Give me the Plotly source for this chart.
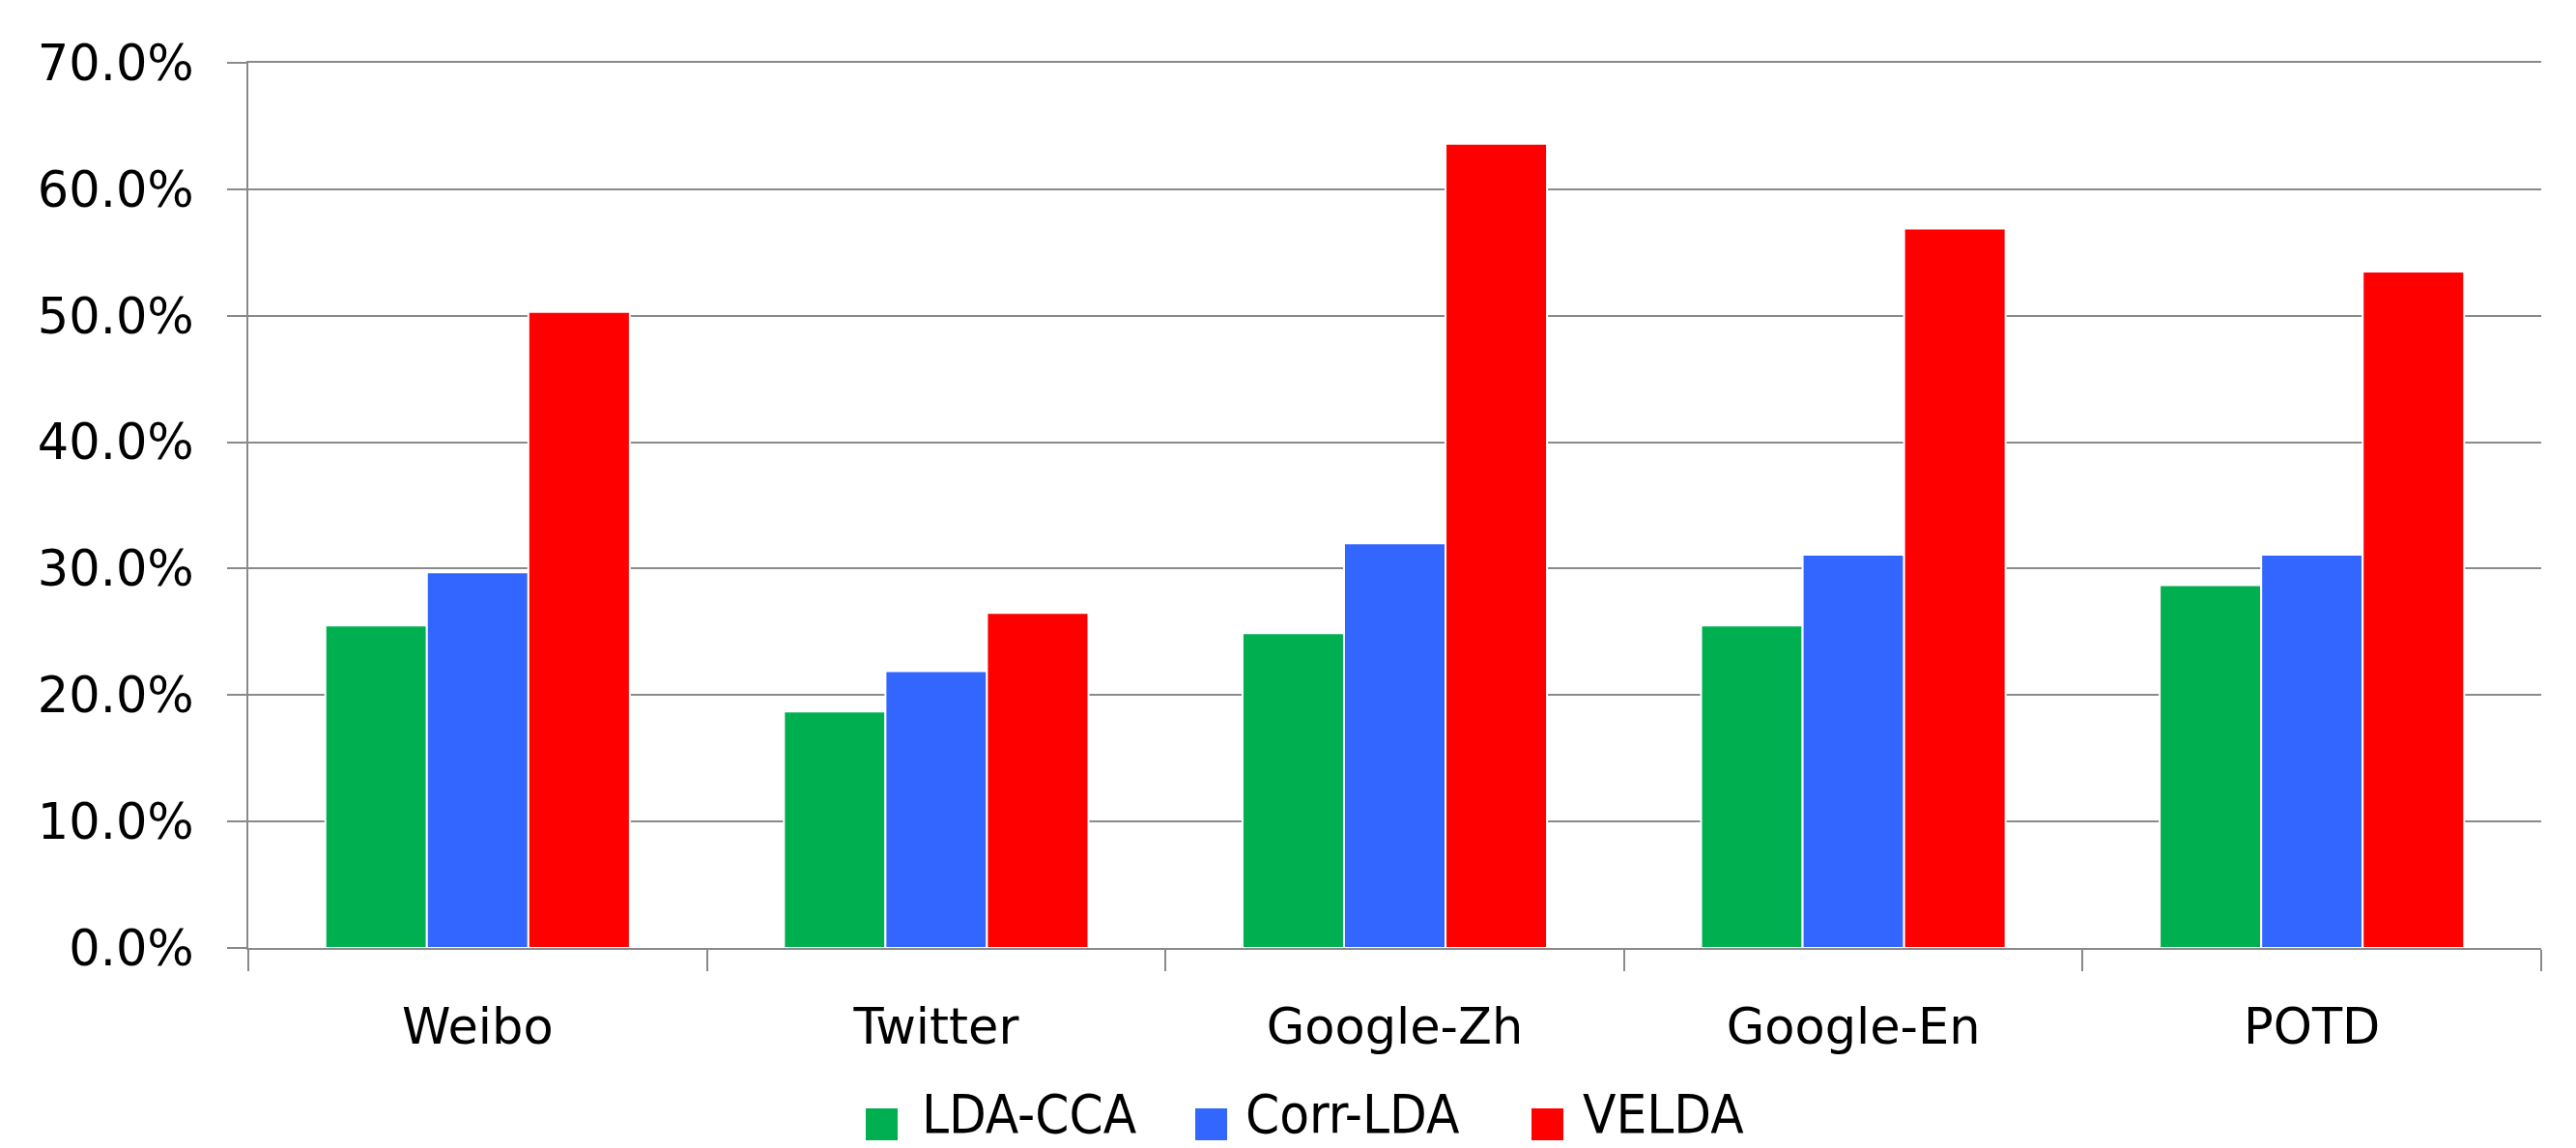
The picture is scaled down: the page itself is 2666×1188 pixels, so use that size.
import plotly.graph_objects as go

categories = ["Weibo", "Twitter", "Google-Zh", "Google-En", "POTD"]
series_names = ["LDA-CCA", "Corr-LDA", "VELDA"]
lda_cca = [0.255, 0.187, 0.249, 0.255, 0.287]
corr_lda = [0.297, 0.219, 0.320, 0.311, 0.311]
velda = [0.503, 0.265, 0.636, 0.569, 0.535]
series_values = [lda_cca, corr_lda, velda]
colors = ["#00B050", "#3366FF", "#FF0000"]
y_tickvals = [0.0, 0.1, 0.2, 0.3, 0.4, 0.5, 0.6, 0.7]

W, H = 2666, 1188
ML, MR, MT, MB = 257, 36, 65, 207
PW, PH = W - ML - MR, H - MT - MB

fig = go.Figure()
for name, vals, col in zip(series_names, series_values, colors):
    fig.add_trace(go.Bar(
        x=categories, y=vals, name=name,
        marker=dict(color=col, line=dict(color="white", width=2)),
        showlegend=False,
    ))

grid = "#8a8a8a"
fig.update_layout(
    width=W, height=H,
    margin=dict(l=ML, r=MR, t=MT, b=MB, pad=0),
    paper_bgcolor="white", plot_bgcolor="white",
    barmode="group", bargap=0.336, bargroupgap=0,
    font=dict(family="DejaVu Sans", size=51, color="black"),
    xaxis=dict(
        showline=True, linecolor=grid, linewidth=2, mirror=True,
        ticks="outside", tickson="boundaries", ticklen=22, tickwidth=2, tickcolor=grid,
        showgrid=False, ticklabelstandoff=36,
        tickfont=dict(family="DejaVu Sans", size=51, color="black"),
    ),
    yaxis=dict(
        range=[0, 0.7], tickvals=y_tickvals, tickformat=".1%",
        showgrid=True, gridcolor=grid, gridwidth=2,
        showline=True, linecolor=grid, linewidth=2,
        ticks="outside", ticklen=20, tickwidth=2, tickcolor=grid,
        zeroline=False, ticklabelstandoff=24,
        tickfont=dict(family="DejaVu Sans", size=51, color="black"),
    ),
)

# legend drawn as swatches + text below the plot
legend_sq_px = [896, 1237, 1585]
legend_txt_px = [952, 1287, 1636]
sq = 33
yc = 1163.5
def px_to_x(px):
    return (px - ML) / PW
def py_to_y(py):
    return (H - MB - py) / PH
for i, name in enumerate(series_names):
    fig.add_shape(type="rect", xref="paper", yref="paper",
                  x0=px_to_x(legend_sq_px[i]), x1=px_to_x(legend_sq_px[i] + sq),
                  y0=py_to_y(yc + sq / 2), y1=py_to_y(yc - sq / 2),
                  fillcolor=colors[i], line=dict(width=0))
    fig.add_annotation(xref="paper", yref="paper",
                       x=px_to_x(legend_txt_px[i]), y=py_to_y(H - 1),
                       xanchor="left", yanchor="bottom", showarrow=False,
                       text=name,
                       font=dict(family="Liberation Sans Narrow, DejaVu Sans Condensed, sans-serif",
                                 size=56, color="black"))

fig.write_html("out.html")
